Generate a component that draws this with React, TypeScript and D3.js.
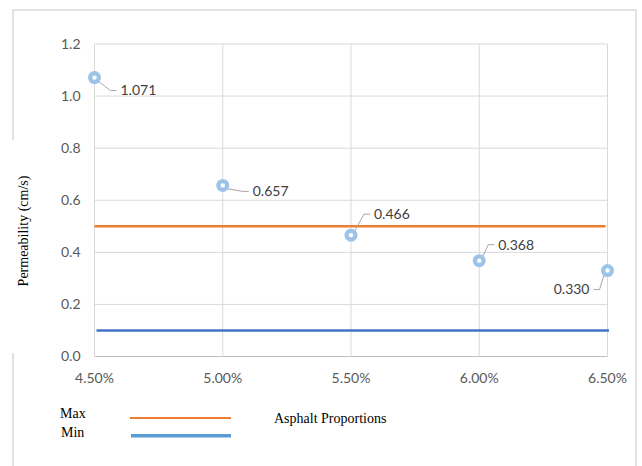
import * as d3 from "d3";

// asphalt content (fraction) and measured permeability
const asphaltContent = [0.045, 0.05, 0.055, 0.06, 0.065];
const permeability = [1.071, 0.657, 0.466, 0.368, 0.33];
const maxLimit = 0.5;
const minLimit = 0.1;
const yTicks = [0, 0.2, 0.4, 0.6, 0.8, 1.0, 1.2];

// leader line / label placement for each point (px offsets)
const labelPlacement = [
  { dx: 26, dy: 13, anchor: "start" },
  { dx: 30, dy: 6, anchor: "start" },
  { dx: 23, dy: -21, anchor: "start" },
  { dx: 19, dy: -16, anchor: "start" },
  { dx: -18, dy: 19, anchor: "end" },
];

const W = 642;
const H = 466;
const margin = { left: 94.5, right: 34.5, top: 44, bottom: 109.5 };

export default function App() {
  const x = d3
    .scaleLinear()
    .domain([0.045, 0.065])
    .range([margin.left, W - margin.right]);
  const y = d3
    .scaleLinear()
    .domain([0, 1.2])
    .range([H - margin.bottom, margin.top]);

  const fmtX = d3.format(".2%");
  const grid = "#d9d9d9";
  const tickFont = "Lato, 'Liberation Sans', sans-serif";
  const leader = "#a6a6a6";

  return (
    <div style={{ position: "absolute", left: 0, top: 0 }}>
      <svg width={W} height={H} style={{ display: "block", background: "#fff" }}>
        {/* chart frame */}
        <path
          d="M13,140 V10 H636 V466 M13,353 V466"
          fill="none"
          stroke="#d9d9d9"
          strokeWidth={1.5}
        />

        {/* horizontal grid */}
        {yTicks.map((t) => (
          <line
            key={"h" + t}
            x1={x(0.045)}
            x2={x(0.065)}
            y1={y(t)}
            y2={y(t)}
            stroke={t === 0 ? "#bfbfbf" : grid}
            strokeWidth={1}
          />
        ))}
        {/* vertical grid */}
        {asphaltContent.map((v) => (
          <line
            key={"v" + v}
            x1={x(v)}
            x2={x(v)}
            y1={y(1.2)}
            y2={y(0)}
            stroke={grid}
            strokeWidth={1}
          />
        ))}

        {/* y tick labels */}
        {yTicks.map((t) => (
          <text
            key={"yl" + t}
            x={x(0.045) - 14}
            y={y(t)}
            dy="0.35em"
            textAnchor="end"
            fontFamily={tickFont}
            fontSize={14}
            fill="#595959"
          >
            {t.toFixed(1)}
          </text>
        ))}
        {/* x tick labels */}
        {asphaltContent.map((v) => (
          <text
            key={"xl" + v}
            x={x(v)}
            y={y(0) + 22}
            dy="0.35em"
            textAnchor="middle"
            fontFamily={tickFont}
            fontSize={14}
            fill="#595959"
          >
            {fmtX(v)}
          </text>
        ))}

        {/* limit lines */}
        <line
          x1={x(0.045)}
          x2={x(0.065) - 2}
          y1={y(maxLimit)}
          y2={y(maxLimit)}
          stroke="#ED7D31"
          strokeWidth={2.5}
        />
        <line
          x1={x(0.045) + 2}
          x2={x(0.065) + 1.5}
          y1={y(minLimit)}
          y2={y(minLimit)}
          stroke="#4472C4"
          strokeWidth={2.5}
        />

        {/* points, leader lines, labels */}
        {permeability.map((p, i) => {
          const cx = x(asphaltContent[i]);
          const cy = y(p);
          const pl = labelPlacement[i];
          const lx = cx + pl.dx;
          const ly = cy + pl.dy;
          const sign = pl.anchor === "start" ? 1 : -1;
          const elbowX = lx - sign * 10;
          const startX = cx + sign * 3;
          const startY = cy + (ly > cy ? 3 : -3);
          return (
            <g key={"p" + i}>
              <polyline
                points={`${startX},${startY} ${elbowX},${ly} ${lx - sign * 4},${ly}`}
                fill="none"
                stroke={leader}
                strokeWidth={1}
              />
              <circle cx={cx} cy={cy} r={6.5} fill="#9DC3E6" />
              <circle cx={cx} cy={cy} r={2.2} fill="#fff" />
              <text
                x={lx}
                y={ly}
                dy="0.35em"
                textAnchor={pl.anchor}
                fontFamily={tickFont}
                fontSize={14}
                fill="#404040"
              >
                {p.toFixed(3)}
              </text>
            </g>
          );
        })}

        {/* y axis title */}
        <text
          transform={`translate(28,231) rotate(-90)`}
          textAnchor="middle"
          fontFamily="'Liberation Serif', 'Times New Roman', serif"
          fontSize={14}
          fill="#000"
        >
          Permeability (cm/s)
        </text>

        {/* legend */}
        <text x={60} y={418} fontFamily="'Liberation Serif', serif" fontSize={14} fill="#000">
          Max
        </text>
        <text x={61} y={437} fontFamily="'Liberation Serif', serif" fontSize={14} fill="#000">
          Min
        </text>
        <line x1={130} x2={231} y1={418} y2={418} stroke="#ED7D31" strokeWidth={2} />
        <line x1={131} x2={231} y1={435.7} y2={435.7} stroke="#5B9BD5" strokeWidth={3.5} />
        <text x={274} y={423} fontFamily="'Liberation Serif', serif" fontSize={14} fill="#000">
          Asphalt Proportions
        </text>
      </svg>
    </div>
  );
}
